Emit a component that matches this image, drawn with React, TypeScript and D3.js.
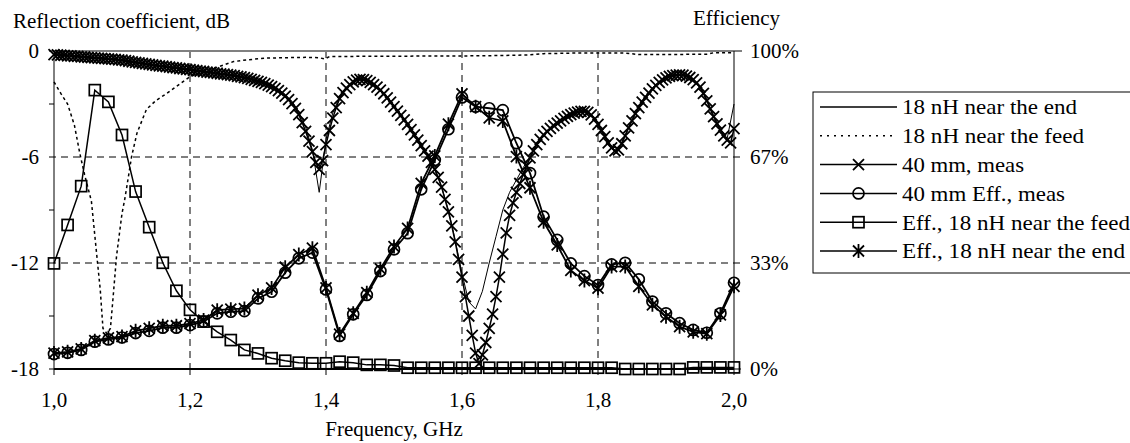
import * as d3 from 'd3';

// 40 mm, meas (reflection, dB), 1.000..2.000 GHz step 0.005
const measDb = [
  -0.20, -0.22, -0.24, -0.25, -0.27, -0.28, -0.30, -0.31, -0.33, -0.34,
  -0.36, -0.37, -0.39, -0.40, -0.42, -0.43, -0.45, -0.46, -0.48, -0.50,
  -0.52, -0.55, -0.58, -0.61, -0.64, -0.67, -0.70, -0.73, -0.76, -0.79,
  -0.81, -0.84, -0.86, -0.89, -0.91, -0.94, -0.96, -0.99, -1.01, -1.04,
  -1.06, -1.09, -1.11, -1.14, -1.16, -1.19, -1.21, -1.24, -1.26, -1.29,
  -1.31, -1.34, -1.37, -1.40, -1.43, -1.47, -1.51, -1.55, -1.60, -1.66,
  -1.72, -1.78, -1.85, -1.93, -2.02, -2.12, -2.24, -2.38, -2.55, -2.75,
  -2.98, -3.25, -3.60, -4.05, -4.55, -5.10, -5.70, -6.30, -6.70, -6.20,
  -5.30, -4.50, -3.80, -3.20, -2.70, -2.35, -2.10, -1.90, -1.75, -1.65,
  -1.60, -1.62, -1.68, -1.78, -1.90, -2.05, -2.22, -2.42, -2.65, -2.90,
  -3.15, -3.40, -3.65, -3.90, -4.15, -4.45, -4.75, -5.05, -5.35, -5.65,
  -5.95, -6.30, -6.70, -7.15, -7.70, -8.40, -9.10, -9.90, -10.80, -11.80,
  -12.80, -13.90, -15.00, -16.10, -17.10, -17.70, -17.20, -16.50, -15.70, -14.90,
  -13.90, -12.80, -11.50, -10.30, -9.30, -8.60, -8.00, -7.50, -7.00, -6.50,
  -6.05, -5.65, -5.30, -5.00, -4.75, -4.55, -4.38, -4.22, -4.08, -3.95,
  -3.82, -3.70, -3.60, -3.52, -3.46, -3.42, -3.42, -3.48, -3.62, -3.85,
  -4.15, -4.50, -4.85, -5.20, -5.48, -5.65, -5.60, -5.25, -4.80, -4.35,
  -3.95, -3.55, -3.20, -2.90, -2.62, -2.38, -2.15, -1.95, -1.78, -1.63,
  -1.52, -1.44, -1.39, -1.36, -1.35, -1.37, -1.42, -1.50, -1.62, -1.80,
  -2.05, -2.40, -2.82, -3.28, -3.72, -4.12, -4.48, -4.80, -5.05, -5.20,
  -4.40,
];

// 18 nH near the end (reflection, dB), step 0.01
const endDb = [
  -0.10, -0.15, -0.20, -0.25, -0.30, -0.34, -0.38, -0.42, -0.46, -0.50,
  -0.55, -0.61, -0.67, -0.73, -0.79, -0.84, -0.89, -0.94, -0.99, -1.04,
  -1.08, -1.13, -1.18, -1.23, -1.28, -1.33, -1.38, -1.44, -1.50, -1.58,
  -1.67, -1.80, -1.96, -2.17, -2.45, -2.85, -3.45, -4.30, -5.60, -8.00,
  -5.00, -3.50, -2.60, -2.05, -1.75, -1.62, -1.65, -1.85, -2.15, -2.60,
  -3.10, -3.60, -4.15, -4.75, -5.35, -5.95, -6.70, -7.70, -9.00, -10.70,
  -12.60, -14.20, -14.60, -13.60, -12.00, -10.50, -9.00, -8.00, -7.30, -6.60,
  -6.00, -5.30, -4.80, -4.40, -4.10, -3.85, -3.65, -3.50, -3.45, -3.60,
  -4.10, -4.80, -5.40, -5.55, -4.75, -3.90, -3.15, -2.55, -2.10, -1.75,
  -1.52, -1.40, -1.35, -1.42, -1.62, -2.00, -2.75, -3.65, -4.40, -4.95,
  -3.00,
];

// 18 nH near the feed (reflection, dB)
const feedFreq = [1.000, 1.010, 1.020, 1.030, 1.038, 1.045, 1.055, 1.063, 1.068, 1.072, 1.078, 1.083, 1.087, 1.092, 1.100, 1.104, 1.107, 1.114, 1.122, 1.136, 1.150, 1.166, 1.200, 1.234, 1.264, 1.284, 1.313, 1.340, 1.370, 1.390, 1.398, 1.405, 1.450, 1.500, 1.550, 1.600, 1.650, 1.700, 1.720, 1.760, 1.800, 1.840, 1.860, 1.900, 1.960, 1.970, 2.000];
const feedDb = [-1.75, -2.4, -3.0, -4.2, -5.8, -7.0, -8.5, -11.6, -13.5, -15.7, -16.0, -15.7, -13.9, -11.6, -9.2, -8.4, -7.7, -6.0, -4.65, -3.3, -2.8, -2.4, -1.45, -1.0, -0.6, -0.5, -0.4, -0.38, -0.36, -0.38, -0.45, -0.32, -0.3, -0.3, -0.28, -0.28, -0.26, -0.22, -0.15, -0.12, -0.12, -0.12, -0.2, -0.2, -0.18, -0.1, -0.1];

// efficiency curves (%), step 0.02
const eff40 = [
  4.7, 5.1, 6.0, 8.6, 9.3, 9.9, 11.3, 12.0, 13.0, 13.0,
  13.8, 14.9, 17.5, 18.0, 18.2, 22.2, 24.3, 30.3, 34.8, 36.6,
  25.0, 10.4, 17.2, 23.3, 30.8, 37.6, 42.7, 56.5, 65.7, 75.4,
  85.4, 82.5, 82.0, 81.4, 71.0, 61.6, 47.9, 40.6, 33.2, 29.2,
  26.4, 32.9, 33.4, 28.2, 21.2, 17.5, 14.4, 12.3, 11.4, 17.5,
  27.1,
];
const effFeed = [
  33.2, 45.3, 57.5, 87.7, 84.0, 73.6, 55.8, 44.6, 33.4, 24.6,
  18.6, 14.9, 11.7, 9.1, 6.0, 4.9, 3.4, 2.6, 2.0, 1.8,
  1.8, 2.3, 2.0, 1.3, 1.3, 1.1, 0.4, 0.4, 0.4, 0.4,
  0.4, 0.4, 0.4, 0.4, 0.4, 0.4, 0.4, 0.4, 0.4, 0.4,
  0.4, 0.4, 0.0, 0.0, 0.0, 0.0, 0.0, 0.5, 0.5, 0.5,
  0.5,
];
const effEnd = [
  5.0, 5.4, 6.3, 8.9, 9.8, 10.2, 12.0, 12.8, 13.6, 13.6,
  14.3, 15.4, 18.5, 18.8, 19.0, 23.2, 25.5, 32.0, 36.0, 38.0,
  25.5, 11.0, 17.5, 24.0, 31.5, 38.5, 44.2, 58.4, 67.0, 77.0,
  86.5, 82.5, 79.0, 78.0, 66.8, 57.0, 46.3, 39.0, 31.0, 27.8,
  25.4, 32.2, 32.2, 26.0, 20.2, 16.4, 13.3, 11.7, 11.1, 17.0,
  26.0,
];

const xTicks = [1.0, 1.2, 1.4, 1.6, 1.8, 2.0];
const dbTicks = [0, -6, -12, -18];
const dbMinor = [-3, -9, -15];
const effTicks = [100, 200 / 3, 100 / 3, 0];
const effLabels = ['100%', '67%', '33%', '0%'];
const legendNames = [
  '18 nH near the end',
  '18 nH near the feed',
  '40 mm, meas',
  '40 mm Eff., meas',
  'Eff., 18 nH near the feed',
  'Eff., 18 nH near the end',
];
const legendWidths = [175, 182, 122, 163, 228, 223];

const measFreq = d3.range(measDb.length).map(i => +(1 + i * 0.005).toFixed(3));
const endFreq = d3.range(endDb.length).map(i => +(1 + i * 0.01).toFixed(2));
const effFreq = d3.range(eff40.length).map(i => +(1 + i * 0.02).toFixed(2));

const L = 54, R = 734, T = 51, B = 369;
const x = d3.scaleLinear().domain([1, 2]).range([L, R]);
const yDb = d3.scaleLinear().domain([-18, 0]).range([B, T]);
const yEff = d3.scaleLinear().domain([0, 100]).range([B, T]);

const FONT = "'Liberation Serif'";

const crossPath = (cx: number, cy: number, s: number) =>
  `M${cx - s},${cy - s}L${cx + s},${cy + s}M${cx - s},${cy + s}L${cx + s},${cy - s}`;
const starPath = (cx: number, cy: number, s: number) =>
  crossPath(cx, cy, s) + `M${cx},${cy - s - 1.5}L${cx},${cy + s + 1.5}`;

const Marker = ({ kind, cx, cy }: { kind: string; cx: number; cy: number }) => {
  if (kind === 'cross') return <path d={crossPath(cx, cy, 5.5)} stroke="#000" strokeWidth={1.8} fill="none" />;
  if (kind === 'star') return <path d={starPath(cx, cy, 5.5)} stroke="#000" strokeWidth={1.8} fill="none" />;
  if (kind === 'circle') return <circle cx={cx} cy={cy} r={5.5} stroke="#000" strokeWidth={1.7} fill="none" />;
  if (kind === 'square') return <rect x={cx - 5.5} y={cy - 5.5} width={11} height={11} stroke="#000" strokeWidth={1.7} fill="none" />;
  return null;
};

const legendStyle = [
  { dash: undefined, marker: '' },
  { dash: '2,5', marker: '' },
  { dash: undefined, marker: 'cross' },
  { dash: undefined, marker: 'circle' },
  { dash: undefined, marker: 'square' },
  { dash: undefined, marker: 'star' },
];

export default function App() {
  const lineDb = (fs: number[], vs: number[]) =>
    d3.line<number>().x((_, i) => x(fs[i])).y(v => yDb(v))(vs) ?? '';
  const lineEff = (vs: number[]) =>
    d3.line<number>().x((_, i) => x(effFreq[i])).y(v => yEff(v))(vs) ?? '';
  const tx = { fontFamily: FONT, fontSize: 21, fill: '#000' };

  return (
    <svg width={1130} height={443} style={{ position: 'absolute', left: 0, top: 0, background: '#fff' }}>
      {/* grid */}
      {xTicks.slice(1, -1).map(t => (
        <line key={'gx' + t} x1={x(t)} x2={x(t)} y1={T} y2={B + 6} stroke="#000" strokeDasharray="7,5" />
      ))}
      {[-6, -12].map(t => (
        <line key={'gy' + t} x1={L - 5} x2={R + 7} y1={yDb(t)} y2={yDb(t)} stroke="#000" strokeDasharray="7,5" />
      ))}
      {/* frame */}
      <line x1={L - 5} x2={R + 8} y1={T} y2={T} stroke="#808080" strokeWidth={2} />
      <line x1={L} x2={L} y1={T} y2={B} stroke="#000" />
      <line x1={R} x2={R} y1={T} y2={B} stroke="#000" />
      <line x1={L} x2={R} y1={B} y2={B} stroke="#000" strokeWidth={2} />
      {dbMinor.map(t => (
        <line key={'mn' + t} x1={L - 5} x2={L} y1={yDb(t)} y2={yDb(t)} stroke="#000" />
      ))}
      <line x1={L - 5} x2={L} y1={B} y2={B} stroke="#000" />
      <line x1={R} x2={R + 7} y1={B} y2={B} stroke="#000" />
      {xTicks.map(t => (
        <line key={'tx' + t} x1={x(t)} x2={x(t)} y1={B} y2={B + 6} stroke="#000" />
      ))}

      {/* tick labels */}
      {dbTicks.map(t => (
        <text key={'ld' + t} x={39} y={yDb(t)} dy="0.35em" textAnchor="end" style={tx}>{t}</text>
      ))}
      {effTicks.map((t, i) => (
        <text key={'le' + i} x={750} y={yEff(t)} dy="0.35em" style={tx}>{effLabels[i]}</text>
      ))}
      {xTicks.map(t => (
        <text key={'lx' + t} x={x(t)} y={407} textAnchor="middle" style={tx}>{t.toFixed(1).replace('.', ',')}</text>
      ))}
      <text x={(L + R) / 2} y={436} textAnchor="middle" style={tx}>Frequency, GHz</text>
      <text x={13} y={28} style={tx}>Reflection coefficient, dB</text>
      <text x={693} y={25} style={tx}>Efficiency</text>

      {/* series */}
      <path d={lineDb(endFreq, endDb)} stroke="#000" strokeWidth={1} fill="none" />
      <path d={lineDb(feedFreq, feedDb)} stroke="#000" strokeWidth={1.5} strokeDasharray="3,3" fill="none" />
      <path d={lineDb(measFreq, measDb)} stroke="#000" strokeWidth={1.5} fill="none" />
      {measDb.map((v, i) => <Marker key={'m' + i} kind="cross" cx={x(measFreq[i])} cy={yDb(v)} />)}
      <path d={lineEff(eff40)} stroke="#000" strokeWidth={1.8} fill="none" />
      {eff40.map((v, i) => <Marker key={'c' + i} kind="circle" cx={x(effFreq[i])} cy={yEff(v)} />)}
      <path d={lineEff(effFeed)} stroke="#000" strokeWidth={1.5} fill="none" />
      {effFeed.map((v, i) => <Marker key={'s' + i} kind="square" cx={x(effFreq[i])} cy={yEff(v)} />)}
      <path d={lineEff(effEnd)} stroke="#000" strokeWidth={1.8} fill="none" />
      {effEnd.map((v, i) => <Marker key={'a' + i} kind="star" cx={x(effFreq[i])} cy={yEff(v)} />)}

      {/* legend */}
      <rect x={813} y={92} width={330} height={181} fill="#fff" stroke="#000" strokeWidth={1} />
      {legendNames.map((name, i) => {
        const ly = 107 + i * 28.8;
        const st = legendStyle[i];
        return (
          <g key={'lg' + i}>
            <line x1={820} x2={897} y1={ly} y2={ly} stroke="#000" strokeWidth={1.5} strokeDasharray={st.dash} />
            <Marker kind={st.marker} cx={858.5} cy={ly} />
            <text x={902} y={ly} dy="0.35em" style={tx} textLength={legendWidths[i]} lengthAdjust="spacingAndGlyphs">{name}</text>
          </g>
        );
      })}
    </svg>
  );
}
